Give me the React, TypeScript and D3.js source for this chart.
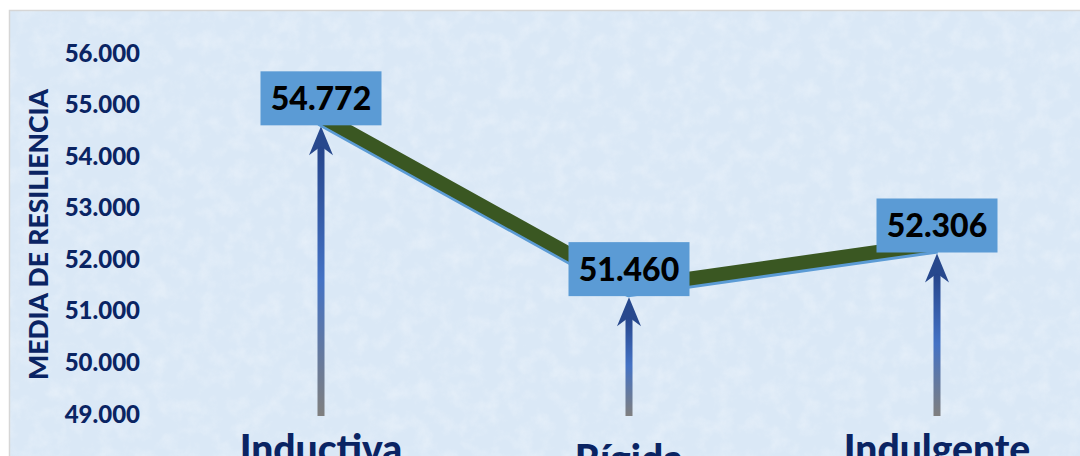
import React from "react";
import * as d3 from "d3";

const categories = ["Inductiva", "Rígida", "Indulgente"];
const values = [54.772, 51.46, 52.306];
const valueLabels = ["54.772", "51.460", "52.306"];
const yTicks = [49, 50, 51, 52, 53, 54, 55, 56];
const yTickLabels = ["49.000", "50.000", "51.000", "52.000", "53.000", "54.000", "55.000", "56.000"];
const axisTitle = "MEDIA DE RESILIENCIA";

const W = 1080;
const H = 456;
const FONT = "Lato, 'Open Sans', sans-serif";
const NAVY = "#0a2463";

const App = () => {
  const x = d3.scalePoint<string>().domain(categories).range([321, 937]);
  const y = d3.scaleLinear().domain([49, 56]).range([414, 53]);

  const pts: [number, number][] = categories.map((c, i) => [x(c) as number, y(values[i])]);
  const line = d3.line();

  const boxW = 121;
  const boxH = 54;

  return (
    <svg
      width={W}
      height={H}
      style={{ position: "absolute", left: 0, top: 0, display: "block" }}
    >
      <defs>
        <filter id="tex" x="0" y="0" width="100%" height="100%">
          <feTurbulence type="fractalNoise" baseFrequency="0.06" numOctaves="4" seed="7" />
          <feColorMatrix
            type="matrix"
            values="0 0 0 0 1  0 0 0 0 1  0 0 0 0 1  0 0 0 1.0 -0.42"
          />
        </filter>
        <linearGradient id="arrowGrad" x1="0" y1="0" x2="0" y2="1">
          <stop offset="0" stopColor="#25448a" />
          <stop offset="0.5" stopColor="#4472c4" />
          <stop offset="1" stopColor="#7f7f7f" />
        </linearGradient>
      </defs>

      <rect x={0} y={0} width={W} height={H} fill="#ffffff" />
      <rect x={9.5} y={10.5} width={W} height={H} fill="#dae8f6" stroke="#d6d6d6" strokeWidth={1.5} />
      <rect x={10} y={11} width={W} height={H} filter="url(#tex)" opacity={0.55} />

      {/* y axis labels */}
      {yTicks.map((t, i) => (
        <text
          key={t}
          x={140}
          y={y(t)}
          dy="0.36em"
          textAnchor="end"
          fontFamily={FONT}
          fontWeight={900}
          fontSize={24}
          fill={NAVY}
        >
          {yTickLabels[i]}
        </text>
      ))}
      <text
        transform={`translate(38,${(87 + 382) / 2}) rotate(-90)`}
        textAnchor="middle"
        dy="0.36em"
        fontFamily={FONT}
        fontWeight={900}
        fontSize={26.5}
        fill={NAVY}
      >
        {axisTitle}
      </text>

      {/* arrows from the base up to each value */}
      {pts.map(([px, py], i) => {
        const tip = py + 10;
        const base = y(49) + 2;
        return (
          <g key={"a" + i}>
            <rect x={px - 3.5} y={tip + 18} width={7} height={base - tip - 18} fill="url(#arrowGrad)" />
            <path
              d={`M${px},${tip} L${px + 12},${tip + 29} L${px},${tip + 20} L${px - 12},${tip + 29} Z`}
              fill="#27488d"
            />
          </g>
        );
      })}

      {/* the line */}
      <path
        d={line(pts) || ""}
        transform="translate(0,3)"
        fill="none"
        stroke="#5b9bd5"
        strokeWidth={14}
        strokeLinejoin="round"
      />
      <path
        d={line(pts) || ""}
        fill="none"
        stroke="#3a5722"
        strokeWidth={14}
        strokeLinejoin="miter"
      />

      {/* value boxes */}
      {pts.map(([px, py], i) => (
        <g key={"b" + i}>
          <rect
            x={px - boxW / 2}
            y={py + 9 - boxH}
            width={boxW}
            height={boxH}
            fill="#5b9bd5"
          />
          <text
            x={px}
            y={py + 9 - boxH / 2}
            dy="0.36em"
            textAnchor="middle"
            fontFamily={FONT}
            fontWeight={900}
            fontSize={32}
            fill="#000"
          >
            {valueLabels[i]}
          </text>
        </g>
      ))}

      {/* category labels */}
      {categories.map((c, i) => (
        <text
          key={c}
          x={x(c)}
          y={463 + (i % 2 === 1 ? 10 : 0)}
          textAnchor="middle"
          fontFamily={FONT}
          fontWeight={900}
          fontSize={39}
          fill={NAVY}
        >
          {c}
        </text>
      ))}
    </svg>
  );
};

export default App;
